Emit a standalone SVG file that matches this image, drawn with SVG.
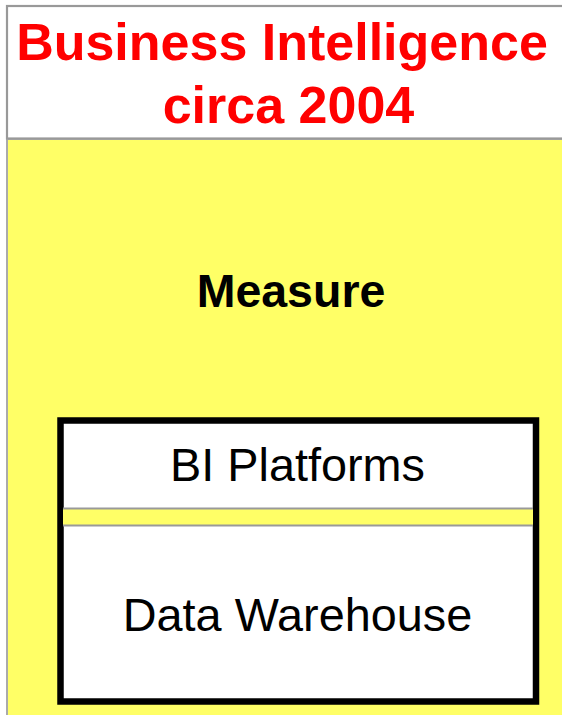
<svg xmlns="http://www.w3.org/2000/svg" width="562" height="715" viewBox="0 0 562 715">
<style>
.t{font-family:"Liberation Sans",Arial,sans-serif;text-anchor:middle}
.title{font-size:52px;font-weight:bold;fill:#FF0000}
.bold{font-size:46.5px;font-weight:bold;fill:#000}
.reg{font-size:46.8px;fill:#000}
.sep{stroke:#999;stroke-width:2}
</style>
<rect x="0" y="0" width="562" height="715" fill="#fff"/>
<g id="background">
<rect x="7" y="139" width="560" height="580" fill="#FFFF66" stroke="#aaaaaa" stroke-width="2"/>
</g>
<g id="title">
<rect x="7" y="6" width="560" height="132.5" fill="#fff" stroke="#999" stroke-width="2.2"/>
<text class="t title" x="282" y="60">Business Intelligence</text>
<text class="t title" x="288.5" y="123">circa 2004</text>
</g>
<g id="measure">
<text class="t bold" x="291" y="306.5">Measure</text>
</g>
<g id="stack">
<rect x="60.5" y="420.5" width="475.5" height="281" fill="#fff" stroke="#000" stroke-width="6.5"/>
<rect x="63" y="509" width="470" height="16" fill="#FFFF66"/>
<line class="sep" x1="63" y1="508.5" x2="533" y2="508.5"/>
<line class="sep" x1="63" y1="525.5" x2="533" y2="525.5"/>
<g id="bi-platforms"><text class="t reg" x="297.5" y="481">BI Platforms</text></g>
<g id="data-warehouse"><text class="t reg" x="297.5" y="630.5">Data Warehouse</text></g>
</g>
<g id="connectors"></g>
</svg>
